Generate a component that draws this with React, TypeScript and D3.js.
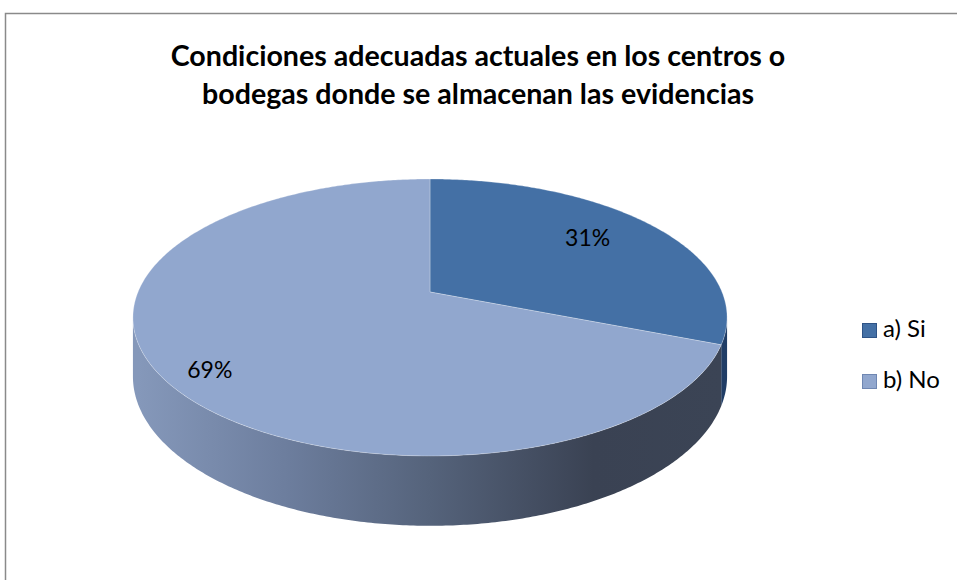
import * as d3 from "d3";

const title = [
  "Condiciones adecuadas actuales en los centros o",
  "bodegas donde se almacenan las evidencias",
];
const categories = ["a) Si", "b) No"];
const values = [31, 69];
const topColors = ["#4470A5", "#91A7CE"];
const legendStroke = ["#2E5386", "#6F87B2"];

const W = 957;
const H = 580;

// perspective disc: apex, radius, depth compression, thickness
const cx = 430;
const cy = 292;
const R = 292;
const B = 133.8;
const K = 0.184;
const T = 57;

function project(a: number, r: number, drop = 0): [number, number] {
  const u = Math.sin(a) * r;
  const w = -Math.cos(a) * r;
  const p = 1 / (1 - K * w);
  return [cx + R * u * p, cy + B * w * p + drop * p];
}

function arcPoints(a0: number, a1: number, r: number, drop: number) {
  const n = Math.max(2, Math.ceil(Math.abs(a1 - a0) / 0.01));
  return d3.range(n + 1).map((i) => project(a0 + ((a1 - a0) * i) / n, r, drop));
}

const line = d3.line();
const font = "Lato, 'Open Sans', sans-serif";

export default function App() {
  const pie = d3
    .pie<number>()
    .sort(null)
    .value((d) => d)
    .startAngle(0)
    .endAngle(2 * Math.PI);
  const arcs = pie(values);

  // silhouette of the cylinder side
  const sil0 = Math.acos(-K);
  const sil1 = 2 * Math.PI - sil0;

  const labelR = [0.7, 0.833];
  const labelDy = [-3, 11.5];

  return (
    <svg width={W} height={H} style={{ position: "absolute", left: 0, top: 0 }}>
      <style>{`body{margin:0}`}</style>
      <defs>
        <linearGradient id="side-grad" gradientUnits="userSpaceOnUse" x1={cx - R} y1={0} x2={cx + R} y2={0}>
          <stop offset="0%" stopColor="#8598BA" />
          <stop offset="25%" stopColor="#6D7E9E" />
          <stop offset="50%" stopColor="#55637B" />
          <stop offset="78%" stopColor="#3A4253" />
          <stop offset="100%" stopColor="#3B4455" />
        </linearGradient>
      </defs>
      <rect x={5.5} y={13.5} width={W + 10} height={H + 10} fill="#fff" stroke="#8a8a8a" strokeWidth={1.5} />

      {title.map((t, i) => (
        <text
          key={i}
          x={478}
          y={66 + i * 38}
          textAnchor="middle"
          fontFamily={font}
          fontWeight={700}
          fontSize={28.6}
          fill="#000"
        >
          {t}
        </text>
      ))}

      {/* sides */}
      {arcs.map((d, i) => {
        const a0 = Math.max(d.startAngle, sil0);
        const a1 = Math.min(d.endAngle, sil1);
        if (a1 <= a0) return null;
        const topPts = arcPoints(a0, a1, 1, 0);
        const botPts = arcPoints(a1, a0, 1, T);
        return (
          <path
            key={`side-${i}`}
            d={line([...topPts, ...botPts])! + "Z"}
            fill={i === 0 ? "#203D66" : "url(#side-grad)"}
          />
        );
      })}

      {/* top faces */}
      {arcs.map((d, i) => {
        const pts = [project(0, 0), ...arcPoints(d.startAngle, d.endAngle, 1, 0)];
        return (
          <path
            key={`top-${i}`}
            d={line(pts)! + "Z"}
            fill={topColors[i]}
            stroke="#ffffff"
            strokeOpacity={0.35}
            strokeWidth={0.8}
            strokeLinejoin="round"
          />
        );
      })}

      {/* labels */}
      {arcs.map((d, i) => {
        const mid = (d.startAngle + d.endAngle) / 2;
        const [x, y] = project(mid, labelR[i]);
        return (
          <text
            key={`lab-${i}`}
            x={x}
            y={y + labelDy[i]}
            textAnchor="middle"
            dominantBaseline="middle"
            fontFamily={font}
            fontSize={23}
            fill="#000"
          >
            {`${values[i]}%`}
          </text>
        );
      })}

      {/* legend */}
      {categories.map((c, i) => (
        <g key={c} transform={`translate(862, ${323 + i * 51})`}>
          <rect x={0.5} y={0.5} width={14} height={14} fill={topColors[i]} stroke={legendStroke[i]} />
          <text x={21} y={8} dominantBaseline="middle" fontFamily={font} fontSize={24} fill="#000">
            {c}
          </text>
        </g>
      ))}
    </svg>
  );
}
